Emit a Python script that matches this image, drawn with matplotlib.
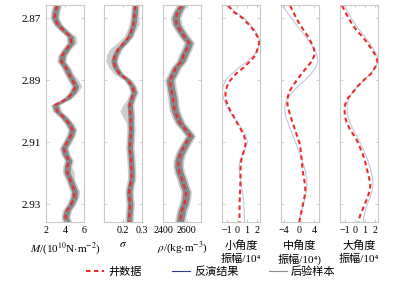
import numpy as np
import matplotlib
matplotlib.use('Agg')
from matplotlib import pyplot as plt
from matplotlib.lines import Line2D

plt.rcParams['font.family'] = ['Liberation Serif', 'Noto Sans CJK SC']
plt.rcParams['mathtext.fontset'] = 'stix'
plt.rcParams['axes.unicode_minus'] = True

# depth (km)
depth = np.arange(2.866, 2.9361, 0.002)

# well log data
m_well = [3.15, 2.97, 2.90, 3.22, 3.87, 4.59, 4.66, 4.16, 3.73, 3.62, 4.09, 4.41,
          4.77, 5.13, 4.84, 4.23, 2.97, 3.15, 3.87, 4.41, 4.77, 4.59, 4.23, 3.87,
          4.05, 4.41, 4.23, 4.23, 4.52, 4.77, 5.02, 4.95, 4.66, 4.23, 4.05, 4.23]
sig_well = [0.264, 0.262, 0.259, 0.255, 0.245, 0.232, 0.205, 0.175, 0.158, 0.150, 0.160, 0.182,
            0.225, 0.248, 0.258, 0.245, 0.235, 0.238, 0.240, 0.240, 0.242, 0.240, 0.238, 0.236,
            0.240, 0.242, 0.244, 0.246, 0.245, 0.238, 0.232, 0.234, 0.238, 0.236, 0.233, 0.232]
rho_well = [2556, 2525, 2505, 2515, 2545, 2580, 2620, 2600, 2575, 2555, 2510, 2485,
            2458, 2465, 2475, 2485, 2490, 2500, 2520, 2545, 2590, 2630, 2600, 2570,
            2545, 2530, 2528, 2540, 2560, 2575, 2595, 2590, 2580, 2560, 2550, 2542]

# posterior spread (half widths): dark core and light outer envelope
m_core = 0.32
m_out_lo = [0.48, 0.48, 0.48, 0.48, 0.48, 0.48, 0.48, 0.48, 0.48, 0.48, 0.48, 0.48,
            0.48, 0.48, 0.48, 0.48, 0.48, 0.48, 0.48, 0.48, 0.48, 0.48, 0.48, 0.48,
            0.48, 0.48, 0.48, 0.48, 0.48, 0.48, 0.48, 0.48, 0.48, 0.48, 0.48, 0.48]
m_out_hi = [0.48, 0.48, 0.48, 0.48, 0.48, 0.6, 0.6, 0.48, 0.48, 0.48, 0.48, 0.48,
            0.65, 0.65, 0.48, 0.48, 0.48, 0.48, 0.48, 0.48, 0.48, 0.48, 0.48, 0.48,
            0.48, 0.48, 0.48, 0.75, 0.48, 0.48, 0.55, 0.48, 0.48, 0.48, 0.48, 0.48]
sig_core = 0.014
sig_out_lo = [0.022, 0.022, 0.022, 0.024, 0.024, 0.028, 0.035, 0.045, 0.045, 0.04, 0.035, 0.03,
              0.022, 0.022, 0.022, 0.022, 0.035, 0.055, 0.04, 0.022, 0.022, 0.022, 0.022, 0.022,
              0.022, 0.022, 0.022, 0.022, 0.022, 0.022, 0.022, 0.022, 0.022, 0.022, 0.022, 0.022]
sig_out_hi = [0.022, 0.022, 0.024, 0.03, 0.022, 0.022, 0.022, 0.022, 0.022, 0.022, 0.022, 0.022,
              0.022, 0.022, 0.022, 0.022, 0.022, 0.022, 0.022, 0.022, 0.022, 0.022, 0.022, 0.022,
              0.022, 0.022, 0.022, 0.022, 0.022, 0.022, 0.022, 0.022, 0.022, 0.022, 0.022, 0.022]
rho_core = 30
rho_out = 45

# seismic amplitudes (/10^4): well synthetic and inversion
small_well = [-0.88, -0.35, 0.55, 1.15, 1.68, 2.05, 2.22, 2.05, 1.85, 1.30, 0.65, -0.10,
              -0.65, -1.00, -1.15, -1.15, -0.95, -0.65, -0.30, 0.05, 0.40, 0.70, 0.88, 0.78,
              0.58, 0.42, 0.36, 0.35, 0.35, 0.33, 0.31, 0.28, 0.26, 0.25, 0.25, 0.25]
small_inv = [-0.80, -0.20, 0.70, 1.30, 1.80, 2.15, 2.28, 2.10, 1.70, 1.00, 0.20, -0.50,
             -1.10, -1.40, -1.45, -1.35, -1.10, -0.75, -0.35, 0.10, 0.55, 0.90, 1.05, 0.85,
             0.55, 0.30, 0.20, 0.25, 0.35, 0.45, 0.55, 0.62, 0.68, 0.72, 0.74, 0.75]
mid_well = [-2.3, -1.5, -0.7, 0.2, 1.3, 2.4, 3.3, 4.0, 4.1, 3.4, 2.0, 0.7,
            -0.5, -1.7, -2.6, -3.0, -3.0, -2.6, -2.1, -1.6, -1.0, -0.5, 0.1, 0.4,
            0.6, 0.75, 0.9, 1.1, 1.4, 1.65, 1.7, 1.45, 1.1, 0.75, 0.4, 0.1]
mid_inv = [-4.3, -3.2, -2.0, -0.8, 0.5, 1.8, 3.0, 4.0, 4.8, 5.0, 4.4, 3.2,
           1.6, -0.2, -1.8, -3.0, -3.6, -3.7, -3.4, -2.8, -2.2, -1.5, -0.9, -0.3,
           0.3, 0.9, 1.4, 1.8, 2.05, 2.1, 1.95, 1.6, 1.2, 0.8, 0.4, 0.1]
large_well = [-1.25, -0.95, -0.60, -0.25, 0.20, 0.75, 1.25, 1.65, 2.05, 2.25, 2.00, 1.60,
              0.90, 0.30, -0.20, -0.70, -0.95, -1.00, -0.95, -0.75, -0.45, -0.05, 0.30, 0.55,
              0.80, 1.00, 1.15, 1.30, 1.45, 1.55, 1.45, 1.25, 1.00, 0.75, 0.50, 0.35]
large_inv = [-1.00, -0.70, -0.35, 0.05, 0.50, 1.00, 1.45, 1.85, 2.20, 2.30, 2.05, 1.55,
             0.90, 0.30, -0.20, -0.60, -0.75, -0.75, -0.65, -0.45, -0.15, 0.20, 0.50, 0.80,
             1.05, 1.30, 1.50, 1.65, 1.78, 1.80, 1.70, 1.50, 1.25, 1.05, 0.90, 0.85]

xlabels = [r'$M$/(10$^{10}$N$\cdot$m$^{-2}$)', r'$\sigma$', r'$\rho$/(kg$\cdot$m$^{-3}$)',
           '小角度\n振幅/10⁴', '中角度\n振幅/10⁴)', '大角度\n振幅/10⁴']
xticks = [[2, 4, 6], [0.2, 0.3], [2400, 2600], [-1, 0, 1, 2], [-4, 0, 4], [-1, 0, 1, 2]]
xlims = [(2, 6), (0.1, 0.3), (2400, 2720), (-1.5, 2.3), (-4.7, 5.3), (-1.45, 2.3)]

red = '#ee2b2b'
band_dark = '#888888'
band_light = '#cdcdcd'
inv_col = '#c3c6e2'
spine_col = '#c8c8c8'

fig = plt.figure(figsize=(3.95, 2.81), dpi=100)
lefts = [46, 104, 163, 222, 281, 340]
axes = [fig.add_axes([l / 395, 1 - 222 / 281, 38 / 395, 217 / 281]) for l in lefts]

logs = [(m_well, m_core, m_out_lo, m_out_hi),
        (sig_well, sig_core, sig_out_lo, sig_out_hi),
        (rho_well, rho_core, [rho_out] * len(depth), [rho_out] * len(depth))]
for ax, (w, core, olo, ohi) in zip(axes[:3], logs):
    w = np.array(w)
    ax.fill_betweenx(depth, w - np.array(olo), w + np.array(ohi), color=band_light, lw=0)
    ax.fill_betweenx(depth, w - core, w + core, color=band_dark, lw=0)
    ax.plot(w, depth, color=red, lw=1.5, dashes=(2.2, 1.6))

for ax, w, inv in zip(axes[3:], [small_well, mid_well, large_well],
                      [small_inv, mid_inv, large_inv]):
    ax.plot(inv, depth, color=inv_col, lw=0.8)
    ax.plot(w, depth, color=red, lw=1.5, dashes=(2.2, 1.6))

for i, ax in enumerate(axes):
    ax.set_ylim(2.9358, 2.8658)
    ax.set_yticks([2.87, 2.89, 2.91, 2.93])
    ax.set_xlim(xlims[i])
    ax.set_xticks(xticks[i])
    ax.tick_params(direction='in', length=2.5, width=0.6, color=spine_col,
                   top=True, right=True)
    ax.tick_params(axis='x', pad=3, labelsize=7.2)
    ax.tick_params(axis='y', pad=4, labelsize=8)
    if i > 0:
        ax.set_yticklabels([])
    for sp in ax.spines.values():
        sp.set_color(spine_col)
        sp.set_linewidth(0.8)
    ax.set_xlabel(xlabels[i], fontsize=8, linespacing=1.35)
    ax.xaxis.set_label_coords(0.5, -0.082)

handles = [Line2D([], [], color=red, lw=1.5, dashes=(2.2, 1.6)),
           Line2D([], [], color='#2d3a98', lw=0.8),
           Line2D([], [], color='#8c8c8c', lw=0.8)]
fig.legend(handles, ['井数据', '反演结果', '后验样本'], loc='center',
           bbox_to_anchor=(0.534, 1 - 272 / 281), ncol=3, frameon=False, fontsize=8,
           handlelength=1.6, handletextpad=0.4, columnspacing=2.7)

plt.savefig('out.png', dpi=100)
